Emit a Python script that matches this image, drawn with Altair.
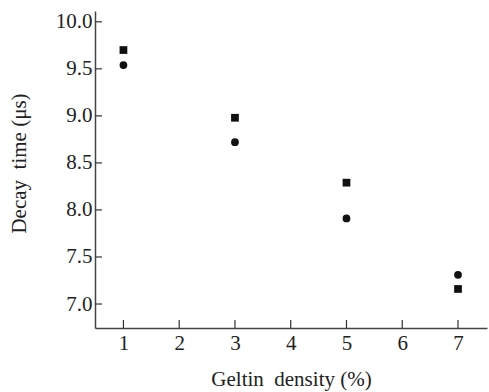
import altair as alt
import pandas as pd

density = [1, 3, 5, 7]
series_square = [9.70, 8.98, 8.29, 7.16]
series_circle = [9.54, 8.72, 7.91, 7.31]
x_ticks = [1, 2, 3, 4, 5, 6, 7]
y_ticks = [7.0, 7.5, 8.0, 8.5, 9.0, 9.5, 10.0]

df = pd.DataFrame({
    "density": density * 2,
    "decay": series_square + series_circle,
    "series": ["square"] * 4 + ["circle"] * 4,
})
xt = pd.DataFrame({"t": x_ticks})
yt = pd.DataFrame({"t": y_ticks})

FONT = "Liberation Serif"
W, H = 392, 317
xscale = alt.Scale(domain=[0.49, 7.52], nice=False, zero=False)
yscale = alt.Scale(domain=[6.745, 10.115], nice=False, zero=False)

base = alt.Chart(df)

pts = base.mark_point(filled=True, opacity=1, color="#111111").encode(
    x=alt.X("density:Q", scale=xscale,
            axis=alt.Axis(title="Geltin\u00a0 density\u00a0(%)", values=x_ticks, ticks=False,
                          grid=False, labelPadding=4, titlePadding=15, format="d")),
    y=alt.Y("decay:Q", scale=yscale,
            axis=alt.Axis(title="Decay\u00a0 time\u00a0(μs)", values=y_ticks, ticks=False,
                          grid=False, labelPadding=3, titlePadding=26, titleY=152,
                          format=".1f")),
    shape=alt.Shape("series:N", scale=alt.Scale(domain=["square", "circle"],
                                                range=["square", "circle"]), legend=None),
    size=alt.Size("series:N", scale=alt.Scale(domain=["square", "circle"],
                                              range=[60, 60]), legend=None),
)

xtick = alt.Chart(xt).mark_rule(color="#333333", strokeWidth=1.2).encode(
    x=alt.X("t:Q", scale=xscale),
    y=alt.value(H - 8),
    y2=alt.value(H),
)
ytick = alt.Chart(yt).mark_rule(color="#333333", strokeWidth=1.2).encode(
    y=alt.Y("t:Q", scale=yscale),
    x=alt.value(0),
    x2=alt.value(7),
)

chart = alt.layer(pts, xtick, ytick).properties(
    width=W, height=H,
    autosize="none",
    padding={"left": 95, "top": 11, "right": 2, "bottom": 64},
).configure_view(stroke=None).configure_axis(
    labelFont=FONT, titleFont=FONT, labelFontSize=21, titleFontSize=21,
    titleFontWeight="normal", labelColor="#222222", titleColor="#222222",
    domainColor="#444444", domainWidth=1.5, labelAngle=0,
)

chart.save("out.html", embed_options={"renderer": "svg", "actions": False})
